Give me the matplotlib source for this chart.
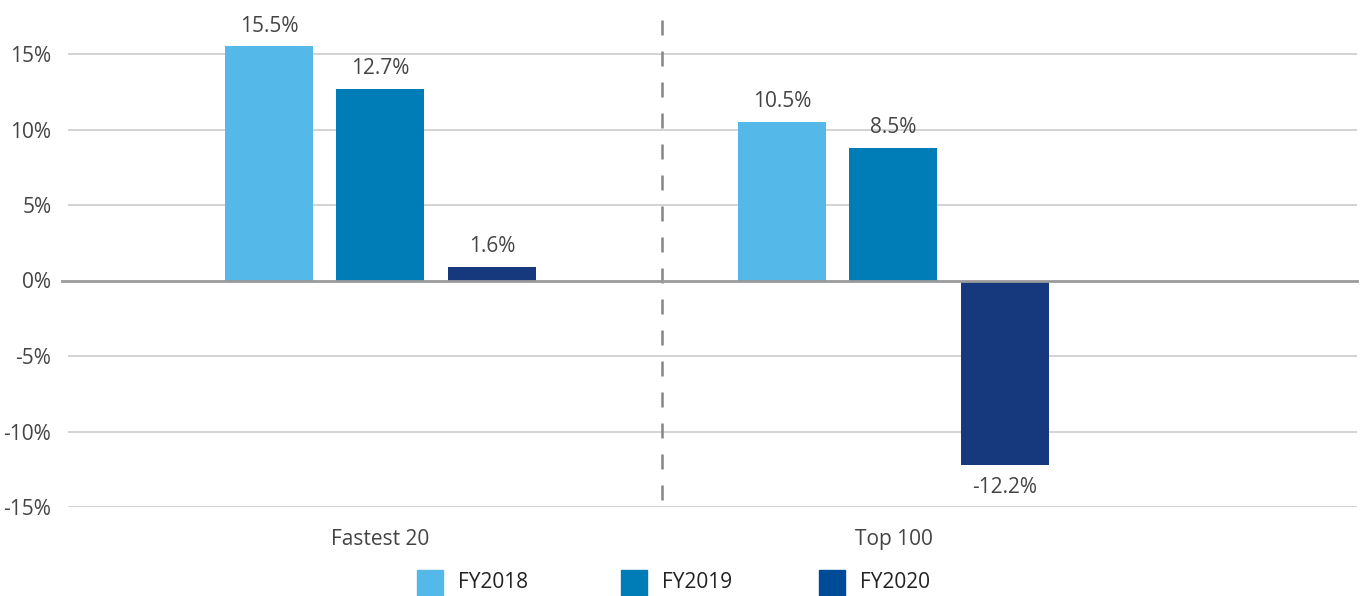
import matplotlib.pyplot as plt
from matplotlib.patches import Rectangle

plt.rcParams['font.family'] = ['Open Sans', 'DejaVu Sans']

groups = ['Fastest 20', 'Top 100']
series = ['FY2018', 'FY2019', 'FY2020']
# bar heights as drawn, labels as printed
heights = {
    'FY2018': [15.5, 10.5],
    'FY2019': [12.7, 8.8],
    'FY2020': [0.9, -12.2],
}
labels = {
    'FY2018': ['15.5%', '10.5%'],
    'FY2019': ['12.7%', '8.5%'],
    'FY2020': ['1.6%', '-12.2%'],
}
bar_colors = {'FY2018': '#54B8E8', 'FY2019': '#007CB7', 'FY2020': '#16387D'}
legend_colors = {'FY2018': '#54B8E8', 'FY2019': '#007CB7', 'FY2020': '#004B97'}
yticks = [-15, -10, -5, 0, 5, 10, 15]

W, H = 1360, 596
PX = 15.1  # pixels per percent point
fig = plt.figure(figsize=(W / 100, H / 100), dpi=100)
ax = fig.add_axes([68 / W, (H - 507) / H, (1357 - 68) / W, 32 * PX / H])

txt = '#444444'
offsets = [-0.2173, 0.0, 0.2173]
width = 0.1715
for s, off in zip(series, offsets):
    xs = [i + off for i in range(len(groups))]
    ax.bar(xs, heights[s], width=width, color=bar_colors[s], zorder=3)
    for x, h, lab in zip(xs, heights[s], labels[s]):
        if h >= 0:
            ax.annotate(lab, (x, h), xytext=(0, 7), textcoords='offset points',
                        ha='center', va='bottom', fontsize=15, color=txt)
        else:
            ax.annotate(lab, (x, h), xytext=(0, -9), textcoords='offset points',
                        ha='center', va='top', fontsize=15, color=txt)

ax.set_xlim(-0.609, 1.9035)
ax.set_ylim(-15, 17)
ax.set_yticks(yticks)
ax.set_yticklabels([f'{t}%' for t in yticks])
ax.set_xticks(range(len(groups)))
ax.set_xticklabels(groups)
ax.tick_params(axis='both', length=0, labelsize=15, labelcolor=txt)
ax.tick_params(axis='y', pad=12)
ax.tick_params(axis='x', pad=16)
for sp in ax.spines.values():
    sp.set_visible(False)

for t in yticks:
    if t != 0:
        ax.axhline(t, color='#c8c8c8', lw=1.1, zorder=1)
ax.plot([-0.621, 1.9035], [0, 0], color='#9a9a9a', lw=2, zorder=4, clip_on=False)
top = (280 - 20) / PX
ax.plot([0.549, 0.549], [top, -15], color='#858585', lw=1.8,
        dashes=(6.0, 6.4), zorder=2, clip_on=False)

# legend
for s, x0 in zip(series, [417, 621, 819]):
    fig.patches.append(Rectangle((x0 / W, (H - 596) / H), 26 / W, 26 / H,
                                 transform=fig.transFigure, color=legend_colors[s]))
    fig.text((x0 + 41) / W, (H - 583) / H, s, fontsize=15, color='#222222',
             ha='left', va='center')

fig.savefig('out.png', dpi=100)
